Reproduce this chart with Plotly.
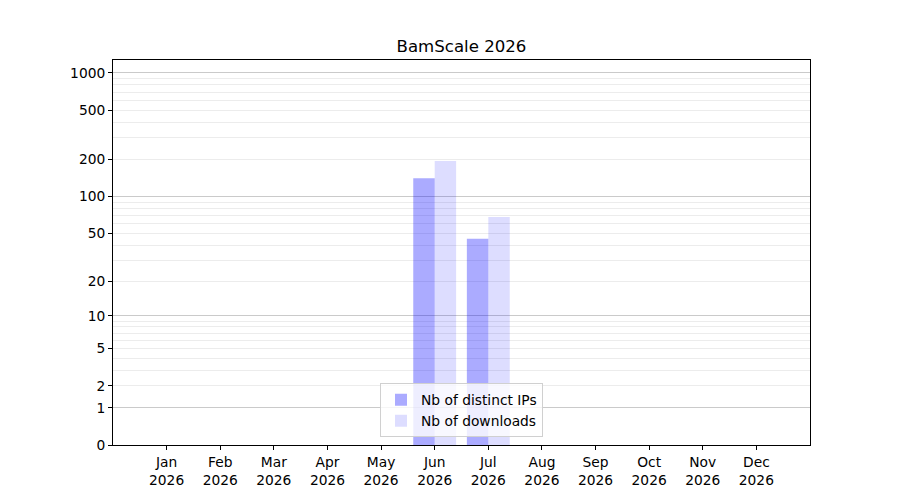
import numpy as np
import plotly.graph_objects as go

# Monthly stats, values
months = ["Jan", "Feb", "Mar", "Apr", "May", "Jun",
          "Jul", "Aug", "Sep", "Oct", "Nov", "Dec"]
year = "2026"
distinct_ips = [0, 0, 0, 0, 0, 141, 45, 0, 0, 0, 0, 0]
downloads = [0, 0, 0, 0, 0, 194, 68, 0, 0, 0, 0, 0]

label_ticks = [0, 1, 2, 5, 10, 20, 50, 100, 200, 500, 1000]
major_grid = [1, 10, 100, 1000]
minor_grid = [2, 3, 4, 5, 6, 7, 8, 9,
              20, 30, 40, 50, 60, 70, 80, 90,
              200, 300, 400, 500, 600, 700, 800, 900]


def scale(v):
    # y axis is log10(1 + x)
    return np.log10(1 + np.asarray(v, dtype=float))


y_range = [0, 3.105]
font = dict(family="DejaVu Sans", size=13.8, color="black")

fig = go.Figure()
fig.add_trace(go.Bar(x=months, y=scale(distinct_ips), name="Nb of distinct IPs",
                     marker=dict(color="rgba(0,0,255,0.33)", line=dict(width=0)),
                     customdata=distinct_ips, hovertemplate="%{customdata}"))
fig.add_trace(go.Bar(x=months, y=scale(downloads), name="Nb of downloads",
                     marker=dict(color="rgba(0,0,255,0.135)", line=dict(width=0)),
                     customdata=downloads, hovertemplate="%{customdata}"))
# empty trace so the labelled overlay axis gets drawn
fig.add_trace(go.Scatter(x=[], y=[], yaxis="y2", showlegend=False))

# page body has an 8px margin, so the figure is sized to fit inside the window
fig.update_layout(
    width=884, height=484,
    margin=dict(l=105, r=82, t=52, b=47),
    paper_bgcolor="white", plot_bgcolor="white",
    font=font,
    title=dict(text="BamScale 2026", x=0.5, xref="paper", y=0.9215, yanchor="middle",
               font=dict(family="DejaVu Sans", size=16.6, color="black")),
    barmode="group", bargap=0.2, bargroupgap=0,
    xaxis=dict(
        tickvals=months, ticktext=[m + "<br>" + year for m in months],
        range=[-1, 12], ticks="outside", ticklen=4, tickcolor="black",
        showline=True, linecolor="black", linewidth=1, mirror=True,
        showgrid=False, zeroline=False, automargin=False,
    ),
    yaxis=dict(
        range=y_range, tickvals=scale(major_grid), showticklabels=False,
        ticks="", showgrid=True, gridcolor="#cacaca", gridwidth=1,
        minor=dict(tickvals=scale(minor_grid), showgrid=True,
                   gridcolor="#ececec", gridwidth=1, ticks=""),
        showline=True, linecolor="black", linewidth=1, mirror=True,
        zeroline=False, automargin=False,
    ),
    yaxis2=dict(
        overlaying="y", side="left", range=y_range,
        tickvals=scale(label_ticks), ticktext=[str(v) for v in label_ticks],
        ticks="outside", ticklen=4, tickcolor="black",
        showgrid=False, zeroline=False, showline=False, automargin=False,
    ),
    legend=dict(x=0.5, xanchor="center", y=0.02, yanchor="bottom",
                bgcolor="rgba(255,255,255,0.8)", bordercolor="#d0d0d0",
                borderwidth=1, font=font, tracegroupgap=0),
)

fig.write_html("out.html")
